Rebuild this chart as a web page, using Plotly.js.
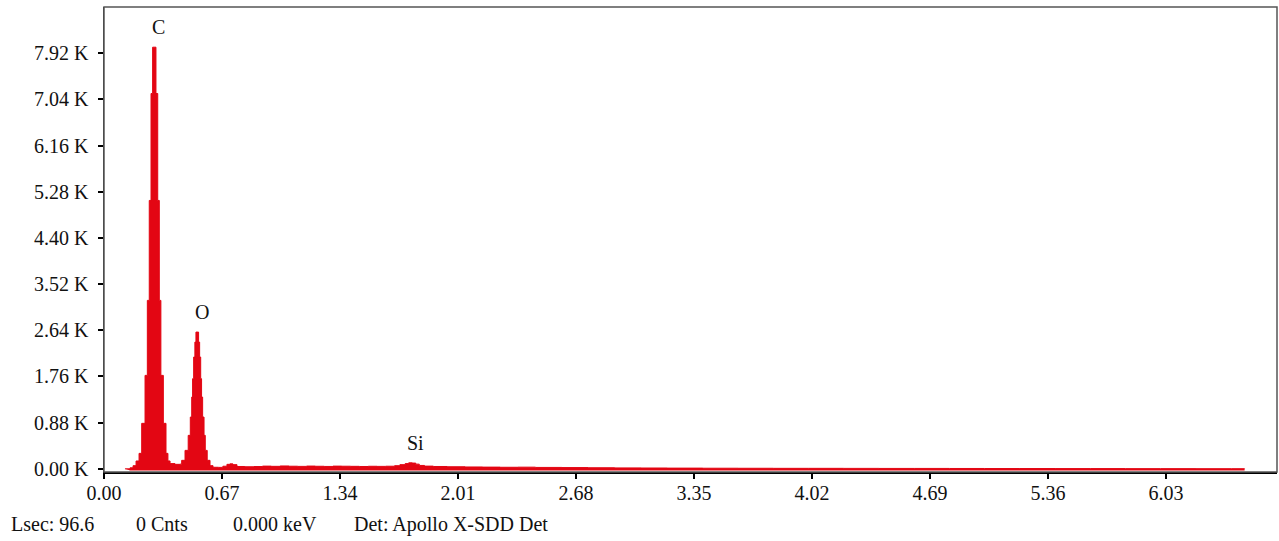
<!DOCTYPE html>
<html>
<head>
<meta charset="utf-8">
<script src="https://cdn.plot.ly/plotly-3.0.1.min.js"></script>
<style>
  html, body { margin: 0; padding: 0; background: #ffffff; }
  #chart { width: 1279px; height: 541px; }
</style>
</head>
<body>
<div id="chart"></div>
<script>
// ---- Data ----
const energyKeV = [0.119, 0.148, 0.165, 0.182, 0.199, 0.214, 0.233, 0.246, 0.257, 0.267, 0.276, 0.295, 0.305, 0.314, 0.323, 0.337, 0.352, 0.363, 0.375, 0.403, 0.431, 0.441, 0.460, 0.478, 0.490, 0.498, 0.503, 0.509, 0.516, 0.522, 0.537, 0.543, 0.549, 0.554, 0.560, 0.568, 0.575, 0.586, 0.602, 0.619, 0.650, 0.675, 0.698, 0.715, 0.732, 0.755, 0.80, 0.85, 0.90, 0.95, 1.00, 1.05, 1.10, 1.15, 1.20, 1.25, 1.30, 1.35, 1.40, 1.45, 1.50, 1.55, 1.60, 1.65, 1.68, 1.71, 1.73, 1.75, 1.77, 1.79, 1.82, 1.87, 1.95, 2.05, 2.15, 2.25, 2.35, 2.45, 2.60, 2.75, 2.90, 3.05, 3.20, 3.40, 3.60, 3.80, 4.00, 4.20, 4.40, 4.60, 4.80, 5.00, 5.20, 5.40, 5.60, 5.80, 6.00, 6.20, 6.40, 6.476];
const counts = [0, 20, 60, 150, 295, 867, 1781, 3210, 5114, 7152, 8034, 7152, 5114, 3210, 1781, 867, 295, 150, 100, 86, 90, 162, 352, 638, 987, 1368, 1718, 2130, 2415, 2606, 2415, 2130, 1718, 1368, 987, 638, 352, 162, 60, 30, 28, 50, 86, 95, 80, 45, 40, 44, 52, 48, 55, 50, 47, 53, 49, 46, 52, 50, 48, 45, 49, 47, 50, 60, 80, 100, 115, 110, 90, 65, 52, 45, 40, 36, 33, 30, 32, 27, 24, 21, 18, 16, 14, 12, 11, 10, 10, 9, 8, 8, 7, 6, 6, 5, 5, 4, 4, 3, 3, 0];

const xTickVals = [0.00, 0.67, 1.34, 2.01, 2.68, 3.35, 4.02, 4.69, 5.36, 6.03];
const xTickText = ["0.00", "0.67", "1.34", "2.01", "2.68", "3.35", "4.02", "4.69", "5.36", "6.03"];
const yTickVals = [0, 880, 1760, 2640, 3520, 4400, 5280, 6160, 7040, 7920];
const yTickText = ["0.00 K", "0.88 K", "1.76 K", "2.64 K", "3.52 K", "4.40 K", "5.28 K", "6.16 K", "7.04 K", "7.92 K"];

const peakNames = ["C", "O", "Si"];
const peakEnergy = [0.31, 0.554, 1.771];
const peakLabelCounts = [8410, 2987, 491];

const footerTexts = ["Lsec: 96.6", "0 Cnts", "0.000 keV", "Det: Apollo X-SDD Det"];

const xRange = [0, 6.66];
const yRange = [-60, 8800];
const fillBase = -30;

const FONT = "Liberation Serif, Times New Roman, serif";
const FS = 20;
const RED = "#e30613";

const W = 1279, H = 541;
const M = { l: 104, r: 2, t: 7, b: 69 };
const plotW = W - M.l - M.r, plotH = H - M.t - M.b;

const traces = [
  { x: [energyKeV[1], energyKeV[energyKeV.length - 1]], y: [fillBase, fillBase],
    mode: "lines", line: { width: 0, color: RED }, hoverinfo: "skip", showlegend: false },
  { x: energyKeV, y: counts, mode: "lines", line: { shape: "hv", width: 1, color: RED },
    fill: "tonexty", fillcolor: RED, showlegend: false }
];

const annotations = peakNames.map((n, i) => ({
  x: peakEnergy[i], y: peakLabelCounts[i], xref: "x", yref: "y", text: n,
  showarrow: false, font: { family: FONT, size: FS, color: "#111" }
}));
const footerPx = [9, 134, 231, 352];
const footerYpx = 524;
footerTexts.forEach((t, i) => annotations.push({
  x: (footerPx[i] - M.l) / plotW, y: (H - M.b - footerYpx) / plotH,
  xref: "paper", yref: "paper", text: t,
  xanchor: "left", yanchor: "middle", showarrow: false,
  font: { family: FONT, size: FS, color: "#111" }
}));

const layout = {
  width: W, height: H,
  margin: M,
  paper_bgcolor: "#ffffff", plot_bgcolor: "#ffffff",
  showlegend: false,
  font: { family: FONT, size: FS, color: "#111" },
  xaxis: {
    range: xRange, tickmode: "array", tickvals: xTickVals, ticktext: xTickText,
    ticks: "outside", ticklen: 5, tickwidth: 2, tickcolor: "#000",
    showline: true, linecolor: "#000", linewidth: 2, showgrid: false, zeroline: false,
    tickfont: { family: FONT, size: FS, color: "#111" }, ticklabelstandoff: -3, fixedrange: true
  },
  yaxis: {
    range: yRange, tickmode: "array", tickvals: yTickVals, ticktext: yTickText,
    ticks: "outside", ticklen: 5, tickwidth: 2, tickcolor: "#000",
    showline: true, linecolor: "#333", linewidth: 1.5, showgrid: false, zeroline: false,
    tickfont: { family: FONT, size: FS, color: "#111" }, ticklabelstandoff: 5, fixedrange: true
  },
  shapes: [
    { type: "rect", xref: "paper", yref: "paper", x0: 0, x1: 1, y0: 0, y1: 1,
      line: { color: "#555", width: 1.5 }, fillcolor: "rgba(0,0,0,0)", layer: "above" }
  ],
  annotations: annotations
};

Plotly.newPlot("chart", traces, layout, { displayModeBar: false, staticPlot: true });
</script>
</body>
</html>
